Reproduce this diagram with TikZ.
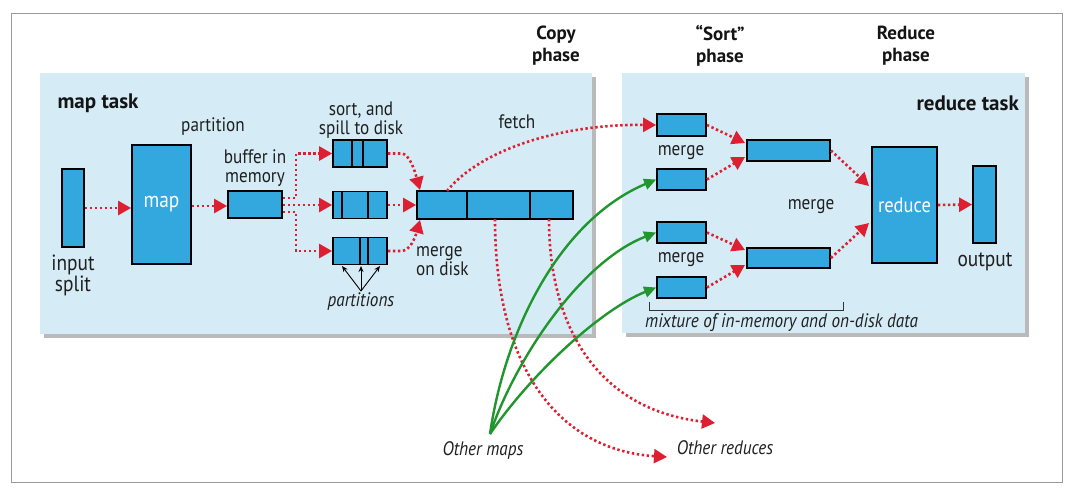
\documentclass[tikz,border=0pt]{standalone}
\usepackage{fontspec}
\setmainfont{PT Sans}[FakeStretch=0.88,BoldFeatures={FakeStretch=1.0}]
\usetikzlibrary{arrows.meta,shadows,calc}
\definecolor{panel}{HTML}{D5EBF6}
\definecolor{boxblue}{HTML}{33A8DF}
\definecolor{rdred}{HTML}{DC2031}
\definecolor{grn}{HTML}{22962E}
\definecolor{frame}{HTML}{9A9A9A}
\tikzset{
  x=1pt,y=-1pt,
  panelbox/.style={fill=panel,draw=none,drop shadow={shadow xshift=4pt,shadow yshift=-4pt,opacity=0.45,fill=black!60}},
  blk/.style={draw=black,line width=1.8pt,fill=boxblue,inner sep=0pt,font=\fontsize{22}{22}\selectfont\color{white}},
  rdot/.style={draw=rdred,line width=2.6pt,dash pattern=on 2.4pt off 2.6pt,-{Triangle[length=13pt,width=14pt]},rdred},
  gline/.style={draw=grn,line width=2.4pt,-{Triangle[length=12pt,width=11pt]},grn},
  lbl/.style={font=\fontsize{19.5}{18.5}\selectfont,align=center,inner sep=0pt,text=black!88},
  ilbl/.style={font=\fontsize{19.5}{18.5}\selectfont\itshape,align=center,inner sep=0pt,text=black!88},
  blbl/.style={font=\fontsize{19}{22}\selectfont\bfseries,align=center,inner sep=0pt,text=black!92},
  divl/.style={line width=1.8pt,draw=black}
}
\begin{document}
\begin{tikzpicture}
\useasboundingbox (0,0) rectangle (1078,496);
\fill[white] (0,0) rectangle (1078,496);
\draw[frame,line width=1pt] (11,13) rectangle (1062,482);
% panels
\path[panelbox] (40,73) rectangle (592,334);
\path[panelbox] (622,73) rectangle (1025,333);
% map side
\node[blbl,font=\fontsize{21}{22}\selectfont\bfseries] (maptask) at (98,103) {map task};
\node[lbl] (partlbl) at (213,127) {partition};
\node[blk,minimum width=22pt,minimum height=78pt] (inp) at (73,208) {};
\node[lbl,font=\fontsize{22}{21}\selectfont] (inplbl) at (73,275) {input\\split};
\node[blk,minimum width=59pt,minimum height=119pt] (map) at (161.5,204.5) {map};
\node[blk,minimum width=54pt,minimum height=27pt] (buf) at (255,204.5) {};
\node[lbl] (buflbl) at (255,168) {buffer in\\memory};
\node[blk,minimum width=54pt,minimum height=27pt] (s1) at (360,153.5) {};
\node[blk,minimum width=54pt,minimum height=27pt] (s2) at (360,205) {};
\node[blk,minimum width=54pt,minimum height=27pt] (s3) at (360,251) {};
\node[lbl] (spilllbl) at (361,120) {sort, and\\spill to disk};
\draw[divl] (352,140) -- (352,167) (363,140) -- (363,167);
\draw[divl] (342,191.5) -- (342,218.5) (368,191.5) -- (368,218.5);
\draw[divl] (360,237.5) -- (360,264.5) (368,237.5) -- (368,264.5);
\node[blk,minimum width=156pt,minimum height=28pt] (mg) at (495,205) {};
\draw[divl] (467,191) -- (467,219) (530,191) -- (530,219);
\node[lbl,align=left,anchor=west] (mglbl) at (416,261) {merge\\on disk};
\node[ilbl] (partslbl) at (361,302) {partitions};
\node[lbl] (fetchlbl) at (517,122) {fetch};
\coordinate (pt) at (361,291);
\draw[black,line width=0.9pt,-{Stealth[length=6pt,width=5pt]}] (pt) -- (342,266);
\draw[black,line width=0.9pt,-{Stealth[length=6pt,width=5pt]}] (pt) -- (361,266);
\draw[black,line width=0.9pt,-{Stealth[length=6pt,width=5pt]}] (pt) -- (380,266);
% map side arrows
\draw[rdot] (inp.east |- 0,208) -- (map.west |- 0,208);
\draw[rdot] (map.east |- 0,206) -- (buf.west |- 0,206);
\draw[rdot] (buf.east |- 0,198) -- (296,198) |- (s1.west);
\draw[rdot] (buf.east |- 0,205) -- (s2.west);
\draw[rdot] (buf.east |- 0,212) -- (296,212) |- (s3.west);
\draw[rdot] (s1.east) -- (401,153.5) .. controls (410,153.5) and (415,172) .. (420,190);
\draw[rdot] (s2.east) -- (mg.west);
\draw[rdot] (s3.east) -- (401,251) .. controls (410,251) and (415,238) .. (420,220);
% phase labels
\node[blbl] (copy) at (556,46) {Copy\\phase};
\node[blbl] (sortp) at (720,46) {“Sort”\\phase};
\node[blbl] (redp) at (906,46) {Reduce\\phase};
% reduce side
\node[blbl,anchor=east,font=\fontsize{21}{22}\selectfont\bfseries] (redtask) at (1019,103) {reduce task};
\node[blk,minimum width=49pt,minimum height=22pt] (A) at (681.5,125) {};
\node[blk,minimum width=49pt,minimum height=21pt] (B) at (681.5,179.5) {};
\node[blk,minimum width=49pt,minimum height=21pt] (C) at (681.5,232.5) {};
\node[blk,minimum width=49pt,minimum height=21pt] (D) at (681.5,287.5) {};
\node[blk,minimum width=83pt,minimum height=21pt] (M1) at (788.5,150.5) {};
\node[blk,minimum width=83pt,minimum height=20pt] (M2) at (788.5,258) {};
\node[blk,minimum width=65pt,minimum height=116pt,font=\fontsize{21}{21}\selectfont\color{white}] (red) at (904.5,205) {reduce};
\node[blk,minimum width=23pt,minimum height=77pt] (out) at (984.5,204.5) {};
\node[lbl,font=\fontsize{22}{21}\selectfont] (outlbl) at (985,262) {output};
\node[lbl] (m1lbl) at (681,153) {merge};
\node[lbl] (m2lbl) at (681,260) {merge};
\node[lbl] (m3lbl) at (811,207) {merge};
\draw[black!80,line width=0.9pt] (649,302) -- (649,310) -- (843,310) -- (843,302);
\node[ilbl,anchor=west] (mixlbl) at (645,323) {mixture of in-memory and on-disk data};
\draw[rdot] (A.east) -- (745,143);
\draw[rdot] (B.east) -- (745,157);
\draw[rdot] (C.east) -- (745,250);
\draw[rdot] (D.east) -- (745,265);
\draw[rdot] (M1.east) -- (869,186);
\draw[rdot] (M2.east) -- (869,223);
\draw[rdot] (red.east) -- (out.west);
% fetch and other reduces
\draw[rdot] (447,191) .. controls (480,150) and (560,124) .. (A.west);
\draw[rdot] (495,219) .. controls (495,370) and (560,450) .. (667,457);
\draw[rdot] (549,219) .. controls (549,330) and (600,410) .. (715,423);
\node[ilbl] (omaps) at (483,450) {Other maps};
\node[ilbl] (ored) at (725,448) {Other reduces};
\coordinate (og) at (490,434);
\draw[gline] (og) .. controls (505,330) and (560,220) .. (B.west);
\draw[gline] (og) .. controls (515,360) and (580,262) .. (C.west);
\draw[gline] (og) .. controls (530,375) and (600,310) .. (D.west);
\end{tikzpicture}
\end{document}
